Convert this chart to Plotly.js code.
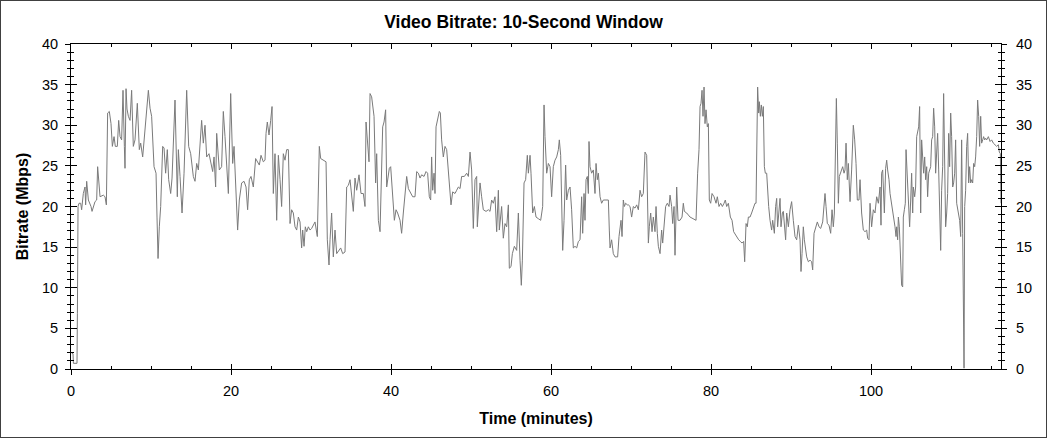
<!DOCTYPE html>
<html>
<head>
<meta charset="utf-8">
<script src="https://cdn.plot.ly/plotly-3.0.1.min.js"></script>
<style>
html,body{margin:0;padding:0;background:#fff;}
#wrap{position:relative;width:1047px;height:438px;}
#chart{width:1047px;height:438px;}
#frame{position:absolute;left:0;top:0;width:1047px;height:438px;box-sizing:border-box;border:1px solid #404040;pointer-events:none;}
</style>
</head>
<body>
<div id="wrap"><div id="chart"></div><div id="frame"></div></div>
<script>
const chartTitle = "Video Bitrate: 10-Second Window";
const xTitle = "Time (minutes)";
const yTitle = "Bitrate (Mbps)";
const xTickValues = [0, 20, 40, 60, 80, 100];
const yTickValues = [0, 5, 10, 15, 20, 25, 30, 35, 40];

const minutes = [
0.1,0.25,0.3,0.75,0.8,0.88,1.00,1.21,1.33,1.54,1.75,1.83,1.96,2.17,2.50,2.63,3.00,3.21,3.33,3.54,3.63,4.04,4.25,4.42,4.50,4.58,4.79,5.00,5.17,5.38,5.54,5.79,5.96,6.13,6.33,6.50,6.67,6.75,6.88,7.00,7.17,7.38,7.58,7.79,8.00,8.29,8.54,8.71,8.96,9.25,9.46,9.67,9.88,10.08,10.38,10.63,10.75,10.88,11.04,11.21,11.46,11.63,11.83,12.04,12.21,12.46,12.63,13.00,13.29,13.42,13.63,13.88,14.13,14.25,14.46,14.71,14.96,15.29,15.50,15.71,15.92,16.33,16.54,16.75,16.96,17.25,17.46,17.71,17.88,18.08,18.21,18.54,18.83,19.04,19.25,19.46,19.67,19.96,
20.08,20.21,20.38,20.63,20.83,21.04,21.33,21.63,21.88,22.08,22.29,22.50,22.79,23.08,23.29,23.54,23.75,24.04,24.25,24.38,24.54,24.75,24.96,25.13,25.29,25.50,25.71,25.92,26.13,26.33,26.54,26.75,26.96,27.17,27.38,27.58,27.79,28.00,28.21,28.42,28.63,28.83,28.96,29.13,29.29,29.46,29.67,29.88,30.08,30.50,30.79,31.04,31.21,31.54,31.88,32.04,32.25,32.38,32.58,32.79,33.00,33.21,33.46,33.71,33.96,34.25,34.46,34.67,34.88,35.08,35.29,35.50,35.71,36.00,36.25,36.54,36.75,36.88,37.04,37.25,37.38,37.58,37.88,38.08,38.21,38.42,38.63,38.83,38.96,39.13,39.33,39.46,39.79,39.96,40.21,40.42,40.63,40.83,41.13,
41.33,41.54,41.75,41.96,42.17,42.38,42.71,43.00,43.21,43.42,43.63,43.83,44.13,44.38,44.58,44.79,44.96,45.08,45.21,45.38,45.50,45.63,45.83,46.04,46.17,46.33,46.54,46.75,46.96,47.17,47.38,47.50,47.71,48.00,48.21,48.42,48.63,48.83,49.17,49.46,49.67,49.88,50.08,50.21,50.29,50.50,50.71,50.79,50.96,51.13,51.33,51.54,51.88,52.17,52.38,52.58,52.79,53.00,53.21,53.42,53.54,53.71,53.83,54.04,54.25,54.46,54.67,54.79,55.00,55.17,55.42,55.71,55.92,56.13,56.29,56.42,56.63,56.83,57.04,57.17,57.38,57.50,57.71,57.92,58.13,58.42,58.71,58.96,59.13,59.25,59.46,59.67,59.88,60.08,60.29,60.50,60.71,60.92,61.04,61.21,61.38,61.46,61.63,61.83,61.96,62.17,62.38,
62.58,62.79,63.00,63.21,63.42,63.63,63.83,63.96,64.13,64.25,64.38,64.54,64.67,64.75,64.88,65.08,65.29,65.50,65.63,65.79,65.92,66.13,66.33,66.54,66.75,66.96,67.17,67.29,67.38,67.58,67.79,68.00,68.21,68.33,68.50,68.63,68.75,68.88,69.04,69.17,69.33,69.54,69.67,69.88,70.08,70.29,70.50,70.71,70.92,71.13,71.33,71.54,71.75,71.96,72.17,72.29,72.46,72.63,72.79,73.00,73.13,73.29,73.42,73.63,73.83,73.96,74.17,74.33,74.54,74.75,74.88,75.08,75.21,75.38,75.50,75.63,75.71,75.88,76.13,76.38,76.54,76.67,76.96,77.38,77.79,78.13,78.33,78.50,78.63,78.75,78.88,79.00,79.13,79.25,79.38,79.54,79.67,79.79,79.96,80.13,80.38,80.63,80.79,81.00,81.21,81.42,81.63,81.79,81.96,82.17,82.42,82.63,82.83,83.04,83.25,83.46,83.67,83.88,84.08,84.21,
84.38,84.54,84.67,84.88,85.08,85.29,85.50,85.63,85.71,85.83,85.96,86.04,86.17,86.29,86.42,86.54,86.67,86.79,86.96,87.08,87.21,87.38,87.58,87.71,87.92,88.08,88.21,88.33,88.46,88.63,88.75,88.92,89.04,89.17,89.33,89.46,89.67,89.88,90.08,90.29,90.50,90.71,90.92,91.13,91.25,91.38,91.54,91.67,91.83,91.96,92.17,92.38,92.58,92.71,92.88,93.08,93.29,93.50,93.71,93.96,94.13,94.25,94.38,94.54,94.75,94.96,95.13,95.29,95.42,95.54,95.67,95.79,95.92,96.04,96.21,96.46,96.63,96.75,96.88,97.04,97.17,97.38,97.58,97.79,97.96,98.13,98.29,98.50,98.63,98.83,99.04,99.25,99.46,99.58,99.75,99.88,100.08,100.29,100.50,100.71,100.92,
101.13,101.25,101.33,101.46,101.54,101.67,101.83,101.96,102.08,102.25,102.38,102.58,102.79,103.00,103.13,103.21,103.33,103.42,103.54,103.63,103.75,103.83,103.96,104.04,104.17,104.29,104.38,104.46,104.58,104.71,104.83,104.96,105.08,105.21,105.29,105.46,105.58,105.71,105.83,105.96,106.08,106.21,106.33,106.46,106.58,106.71,106.83,106.96,107.08,107.21,107.33,107.46,107.58,107.71,107.83,107.96,108.08,108.21,108.33,108.46,108.58,108.71,108.83,108.96,109.08,109.21,109.33,109.46,109.58,109.71,109.83,109.96,110.08,110.21,110.33,110.46,110.58,110.71,110.83,110.96,111.08,111.21,111.33,111.46,111.54,111.63,111.71,111.83,111.96,112.08,112.21,112.33,112.46,112.58,112.71,112.83,112.96,113.08,113.21,113.33,113.46,113.58,113.71,113.83,113.96,114.08,114.21,114.33,114.46,114.67,114.88,115.08,115.29,115.50,115.71,115.92,116.04,116.17,116.25
];

const bitrate = [
1.9,1.9,0.7,0.7,6.8,20.0,20.4,20.4,19.6,21.6,22.4,20.2,23.1,20.8,20.0,19.4,20.6,20.8,24.9,22.9,21.2,21.4,21.2,20.2,24.9,31.5,31.7,30.2,27.4,28.6,27.4,27.4,30.6,28.6,28.2,34.3,27.4,24.7,34.5,32.0,31.1,30.6,34.3,27.4,28.2,32.7,27.0,27.8,26.1,29.4,31.5,34.3,32.1,31.1,24.9,24.1,18.7,13.6,17.5,20.0,27.4,27.2,24.1,27.0,23.3,21.6,23.5,33.1,21.2,27.0,23.7,19.2,24.1,27.4,34.3,27.4,26.5,23.7,23.1,25.3,24.5,30.6,27.8,30.0,26.1,26.5,25.3,24.3,26.1,22.4,29.0,24.5,24.9,31.7,28.6,24.1,21.6,33.9,
30.6,25.3,27.4,20.4,17.1,20.8,22.9,23.1,22.4,19.6,23.3,23.7,22.4,25.9,25.5,25.1,26.3,25.5,25.7,29.0,30.4,28.8,30.6,32.3,21.6,26.5,18.3,26.3,23.3,20.0,26.5,25.7,27.0,27.0,17.9,19.6,19.2,17.5,17.1,18.7,18.1,14.9,17.1,15.1,17.5,16.9,17.5,17.1,17.3,18.1,16.3,27.4,25.9,25.7,25.5,15.9,12.8,15.9,19.2,13.8,17.1,14.2,14.6,14.9,14.2,14.4,22.4,22.6,23.3,21.2,19.4,23.5,22.0,23.9,21.6,21.6,20.0,30.4,28.2,25.5,33.9,33.5,31.1,22.9,26.5,18.3,16.9,24.1,29.8,30.4,31.9,22.4,24.7,24.9,20.8,18.3,19.6,19.2,18.3,
16.7,19.2,22.0,23.7,22.2,21.8,21.2,21.2,24.3,24.1,23.5,23.9,23.7,24.3,24.1,21.2,20.8,26.1,22.0,24.1,21.6,29.8,30.6,31.7,31.5,28.2,26.1,27.4,27.0,24.5,22.4,20.2,21.8,21.6,22.0,22.4,22.2,23.7,23.7,24.1,23.7,26.7,24.5,20.0,17.3,23.3,23.7,17.5,20.8,22.9,21.2,19.6,19.4,19.6,19.4,20.8,20.4,21.2,16.9,22.0,17.1,19.2,20.0,16.1,17.9,17.5,20.2,12.4,12.6,14.2,15.1,14.6,19.2,13.4,10.3,13.4,22.9,23.3,26.3,24.1,26.3,24.1,19.2,20.0,18.7,18.5,18.3,20.0,32.5,28.6,24.1,25.3,24.9,21.2,24.9,25.7,26.1,27.0,28.2,26.3,20.0,14.6,18.3,25.1,20.8,22.0,22.4,
19.6,14.9,15.1,14.9,15.7,15.9,21.2,16.7,21.6,18.3,23.3,23.7,21.6,28.0,24.9,24.1,24.5,21.6,25.3,23.3,24.1,21.2,20.4,20.8,20.8,20.8,20.8,17.1,14.9,15.9,14.2,13.8,13.8,13.8,16.3,17.5,18.3,16.3,20.8,20.0,20.4,20.2,20.2,20.0,18.7,20.0,19.8,20.2,19.6,22.0,21.2,21.6,26.7,26.3,15.5,17.5,19.2,16.9,18.7,16.9,20.0,16.7,15.1,14.2,17.1,15.5,18.3,20.0,20.4,20.0,21.4,20.0,17.9,20.0,14.0,18.3,22.4,18.3,18.3,18.7,20.4,19.4,19.2,18.7,18.5,18.3,24.1,27.0,32.3,32.7,34.3,31.1,34.7,30.2,31.9,29.8,30.2,20.8,20.4,21.6,21.2,20.4,21.2,20.0,20.4,20.0,20.4,20.8,20.0,20.4,18.7,18.3,16.9,16.5,16.3,15.9,15.7,15.5,15.7,13.2,
17.9,17.5,18.7,18.7,19.2,19.8,20.4,20.4,29.8,34.7,31.5,32.9,31.1,32.5,31.1,32.3,24.9,24.1,24.1,21.6,20.0,18.3,17.1,18.3,16.7,20.0,21.0,17.5,19.6,21.0,17.5,19.2,19.4,17.3,15.9,19.2,17.5,19.6,20.6,18.3,16.3,15.9,17.7,15.9,12.0,14.2,17.5,15.9,14.2,13.8,13.2,13.4,13.2,12.2,16.7,17.5,18.1,17.5,17.3,18.1,20.0,21.6,20.0,17.9,17.7,16.7,19.6,17.5,19.2,25.5,33.3,27.8,20.4,23.7,24.1,24.9,24.1,24.5,27.8,23.3,25.3,20.6,24.5,30.0,28.2,25.3,20.8,20.8,23.3,19.2,17.1,16.9,17.1,16.1,15.9,20.4,17.5,19.6,19.2,21.2,20.4,
22.4,17.7,24.1,24.5,21.2,19.2,24.7,25.7,24.5,23.3,21.6,20.4,19.2,17.5,16.3,17.5,15.9,18.7,17.5,14.2,11.8,10.3,10.1,18.7,19.6,20.4,27.0,24.9,21.6,19.2,17.5,20.8,24.1,19.2,22.4,21.2,22.4,28.6,29.4,29.8,32.3,19.2,28.2,25.7,24.1,26.1,23.3,24.9,21.2,24.1,24.5,24.9,28.2,28.6,32.1,29.8,24.1,27.4,29.0,24.5,17.5,14.6,22.0,24.9,33.9,27.0,17.5,19.2,21.6,29.0,24.9,31.5,28.6,22.4,22.9,24.1,28.2,20.4,19.6,19.2,18.3,16.3,28.2,16.7,0.3,0.1,20.0,22.0,27.4,29.0,22.9,24.9,22.9,23.3,22.9,25.3,24.9,26.1,28.6,33.1,31.1,27.4,31.1,27.8,28.2,28.6,28.2,28.4,28.2,28.6,28.0,28.2,27.8,27.6,27.4,27.6,26.7,26.5,20.4
];

const fontFamily = "'Liberation Sans', Arial, sans-serif";

const traces = [
  {x: minutes, y: bitrate, type: 'scatter', mode: 'lines',
   line: {color: '#7a7a7a', width: 1}, hoverinfo: 'skip', showlegend: false},
  {x: [0], y: [0], xaxis: 'x2', yaxis: 'y2', type: 'scatter', mode: 'markers',
   marker: {opacity: 0}, hoverinfo: 'skip', showlegend: false}
];

const layout = {
  width: 1047, height: 438,
  margin: {l: 71, r: 46, t: 44, b: 69, autoexpand: false},
  paper_bgcolor: '#ffffff', plot_bgcolor: '#ffffff',
  font: {family: fontFamily, size: 14, color: '#000'},
  showlegend: false,
  title: {text: chartTitle, x: 0.5, xref: 'container', xanchor: 'center',
          y: 1 - 22/438, yref: 'container', yanchor: 'middle',
          font: {family: fontFamily, size: 17.5, weight: 'bold', color: '#000'}},
  xaxis: {range: [0, 116.25], tickvals: xTickValues, ticktext: xTickValues.map(String),
          ticks: 'outside', ticklen: 5, tickcolor: '#000', tickwidth: 1,
          showline: true, linecolor: '#000', linewidth: 1, mirror: false,
          showgrid: false, zeroline: false, automargin: false, ticklabelstandoff: 4,
          title: {text: xTitle, standoff: 14, font: {family: fontFamily, size: 16, weight: 'bold', color: '#000'}},
          tickfont: {family: fontFamily, size: 14.5, color: '#000'}},
  xaxis2: {overlaying: 'x', side: 'top', range: [0, 116.25], tickvals: xTickValues,
           ticks: 'inside', ticklen: 5, tickcolor: '#000',
           minor: {ticks: 'inside', ticklen: 3, dtick: 5, tick0: 0, tickcolor: '#000', showgrid: false},
           showline: true, linecolor: '#000', linewidth: 1, mirror: 'ticks',
           showticklabels: false, showgrid: false, zeroline: false, automargin: false},
  yaxis: {range: [0, 40], tickvals: yTickValues, ticktext: yTickValues.map(String),
          ticks: 'outside', ticklen: 5, tickcolor: '#000',
          minor: {ticks: 'outside', ticklen: 3, dtick: 1, tick0: 0, tickcolor: '#000', showgrid: false},
          showline: true, linecolor: '#000', linewidth: 1, mirror: 'ticks',
          showgrid: false, zeroline: false, automargin: false, ticklabelstandoff: 4,
          title: {text: yTitle, standoff: 9, font: {family: fontFamily, size: 16, weight: 'bold', color: '#000'}},
          tickfont: {family: fontFamily, size: 14.5, color: '#000'}},
  yaxis2: {overlaying: 'y', side: 'right', range: [0, 40], tickvals: yTickValues, ticktext: yTickValues.map(String),
           ticks: 'inside', ticklen: 6, tickcolor: '#000',
           minor: {ticks: 'inside', ticklen: 3, dtick: 1, tick0: 0, tickcolor: '#000', showgrid: false},
           showline: true, linecolor: '#000', linewidth: 1, mirror: 'ticks',
           showgrid: false, zeroline: false, automargin: false, ticklabelstandoff: 11,
           tickfont: {family: fontFamily, size: 14.5, color: '#000'}}
};

Plotly.newPlot('chart', traces, layout, {staticPlot: true, displayModeBar: false});
</script>
</body>
</html>
